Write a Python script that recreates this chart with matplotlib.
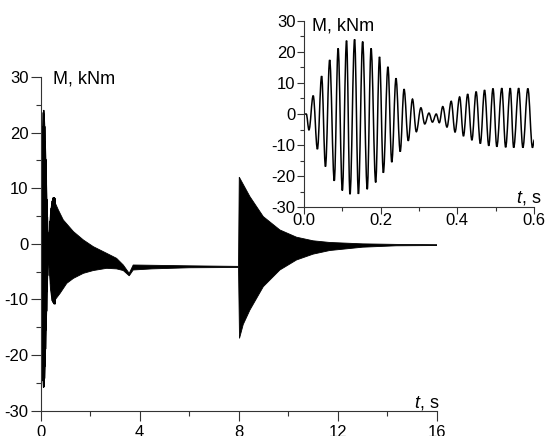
import numpy as np
import matplotlib
matplotlib.use("Agg")
import matplotlib.pyplot as plt
from matplotlib.ticker import MultipleLocator
from matplotlib.path import Path
from matplotlib.patches import PathPatch

plt.rcParams['font.family'] = ['Liberation Sans', 'DejaVu Sans']
plt.rcParams['font.size'] = 12
plt.rcParams['axes.unicode_minus'] = False
plt.rcParams['mathtext.fontset'] = 'custom'
plt.rcParams['mathtext.it'] = 'Liberation Sans:italic'
plt.rcParams['mathtext.rm'] = 'Liberation Sans'

# start-up transient, extrema (t in s, M in kNm)
ins_t = [0.000, 0.006, 0.013, 0.024, 0.035, 0.046, 0.056, 0.067, 0.079, 0.089,
         0.100, 0.111, 0.120, 0.132, 0.142, 0.153, 0.165, 0.175, 0.187, 0.197,
         0.207, 0.219, 0.229, 0.240, 0.251, 0.261, 0.272, 0.283, 0.293, 0.305,
         0.315, 0.326, 0.335, 0.345, 0.353, 0.362, 0.373, 0.384, 0.394, 0.406,
         0.416, 0.427, 0.438, 0.449, 0.460, 0.471, 0.482, 0.493, 0.503, 0.516,
         0.526, 0.538, 0.547, 0.560, 0.571, 0.584, 0.596, 0.601]
ins_m = [0.0, 0.0, -5.1, 5.9, -11.3, 12.2, -16.9, 17.4, -21.5, 21.1,
         -24.6, 23.6, -25.8, 24.0, -25.7, 23.3, -24.2, 21.1, -22.0, 18.4,
         -18.9, 15.2, -15.5, 11.5, -12.1, 8.0, -8.6, 4.8, -5.7, 2.0,
         -3.2, 0.3, -2.6, 0.0, -2.8, 2.4, -4.2, 4.1, -5.8, 5.5,
         -7.1, 6.4, -8.4, 7.2, -9.5, 7.7, -10.2, 8.2, -10.5, 8.3,
         -10.7, 8.3, -10.8, 8.3, -10.8, 8.2, -10.8, -8.3]

# envelope of the dense oscillation over the whole run
up_t = [0.33, 0.40, 0.46, 0.52, 0.72, 0.92, 1.33, 1.73, 2.13, 2.67, 3.07, 3.34,
        3.58, 3.74, 4.5, 6.0, 7.99, 8.02, 8.45, 8.99, 9.66, 10.33, 11.0, 11.67,
        13.0, 14.4, 16.0]
up_m = [0.5, 5.5, 7.6, 8.1, 6.1, 4.3, 2.2, 0.7, -0.5, -1.7, -2.6, -3.8,
        -5.3, -3.8, -3.85, -3.95, -4.05, 12.0, 8.5, 4.9, 2.5, 1.2, 0.55, 0.25,
        0.0, -0.1, -0.15]
lo_t = [0.33, 0.40, 0.46, 0.53, 0.62, 0.79, 1.06, 1.33, 1.73, 2.13, 2.67, 3.07,
        3.34, 3.58, 3.74, 4.5, 6.0, 7.99, 8.03, 8.18, 8.45, 8.99, 9.66, 10.33,
        11.0, 11.67, 13.0, 14.35, 16.0]
lo_m = [-2.5, -8.0, -10.2, -10.6, -9.9, -8.9, -7.1, -6.2, -5.3, -4.8, -4.4, -4.5,
        -4.8, -5.75, -4.7, -4.5, -4.3, -4.25, -17.0, -14.5, -11.9, -7.7, -4.7, -2.9,
        -1.85, -1.2, -0.6, -0.35, -0.3]

spine_col = '#333333'


def style_axes(ax, xmaj, xmin, ymaj, ymin, majlen, minlen, xpad, ypad):
    for s in ['top', 'right']:
        ax.spines[s].set_visible(False)
    for s in ['left', 'bottom']:
        ax.spines[s].set_color(spine_col)
        ax.spines[s].set_linewidth(0.8)
    ax.xaxis.set_major_locator(MultipleLocator(xmaj))
    ax.xaxis.set_minor_locator(MultipleLocator(xmin))
    ax.yaxis.set_major_locator(MultipleLocator(ymaj))
    ax.yaxis.set_minor_locator(MultipleLocator(ymin))
    ax.tick_params(which='major', direction='out', length=majlen, width=0.8, color=spine_col)
    ax.tick_params(which='minor', direction='out', length=minlen, width=0.8, color=spine_col)
    ax.tick_params(axis='x', pad=xpad)
    ax.tick_params(axis='y', pad=ypad)


def smooth_path(ts, ms):
    # cubic segments between neighbouring extrema, flat tangent at each extremum
    verts = [(ts[0], ms[0])]
    codes = [Path.MOVETO]
    for i in range(1, len(ts)):
        dt = ts[i] - ts[i - 1]
        verts += [(ts[i - 1] + 0.364 * dt, ms[i - 1]),
                  (ts[i] - 0.364 * dt, ms[i]),
                  (ts[i], ms[i])]
        codes += [Path.CURVE4] * 3
    return Path(verts, codes)


fig = plt.figure(figsize=(5.52, 4.36), dpi=100)

# main plot
ax = fig.add_axes([0.0734, 0.058, 0.7183, 0.7654])
t0 = np.array(ins_t)
m0 = np.array(ins_m)
early = t0 < 0.33
pk = early & (m0 >= 0)
tr = early & (m0 <= 0)
poly_t = np.r_[t0[pk], up_t, lo_t[::-1], t0[tr][::-1]]
poly_m = np.r_[m0[pk], up_m, lo_m[::-1], m0[tr][::-1]]
ax.fill(poly_t, poly_m, color='black', lw=0.6)
ax.plot(ins_t, ins_m, color='black', lw=0.8)
ax.set_xlim(0, 16)
ax.set_ylim(-30, 30)
style_axes(ax, 4, 2, 10, 5, 7.5, 3.6, 3, 1)
ax.text(0.032, 0.981, 'M, kNm', transform=ax.transAxes, ha='left', va='baseline',
        fontsize=13)
ax.text(1.005, 0.01, r'$t$, s', transform=ax.transAxes, ha='right', va='baseline',
        fontsize=13)

# inset: first 0.6 s
axi = fig.add_axes([0.5507, 0.5245, 0.4167, 0.428])
axi.patch.set_alpha(0)
axi.add_patch(PathPatch(smooth_path(ins_t, ins_m), fill=False,
                        edgecolor='black', lw=1.1))
axi.set_xlim(0, 0.6)
axi.set_ylim(-30, 30)
style_axes(axi, 0.2, 0.1, 10, 5, 5, 3, -1, 1)
axi.text(0.033, 0.95, 'M, kNm', transform=axi.transAxes, ha='left', va='baseline',
         fontsize=13)
axi.text(1.033, 0.025, r'$t$, s', transform=axi.transAxes, ha='right', va='baseline',
         fontsize=13)

fig.savefig('out.png', dpi=100)
